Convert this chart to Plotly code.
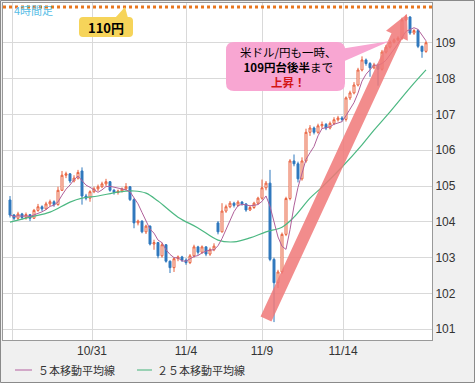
import math
import plotly.graph_objects as go

# ---------------- data ----------------
idx = list(range(105))
opens = [104.61,104.19,104.10,104.22,104.12,104.20,104.10,104.32,104.42,104.36,
         104.50,104.56,104.48,104.88,105.30,105.34,105.14,105.22,105.42,104.72,
         104.66,104.84,104.92,104.98,105.06,105.12,104.88,104.82,104.86,104.92,
         104.98,104.62,103.97,104.02,103.72,103.88,103.38,103.42,103.05,103.36,
         102.90,102.72,102.97,103.02,102.93,102.86,103.05,103.30,103.15,103.30,
         103.10,103.22,103.97,103.72,104.30,104.42,104.52,104.46,104.55,104.50,
         104.33,104.40,104.52,104.66,104.95,105.08,102.95,102.30,102.60,103.65,
         104.65,105.70,105.62,105.20,105.70,106.50,106.62,106.50,106.68,106.72,
         106.62,106.75,106.85,106.90,106.86,107.46,107.60,107.82,108.24,108.52,
         108.42,108.30,108.38,108.26,108.74,108.88,109.02,109.08,109.13,109.64,
         109.72,109.27,109.34,108.90,108.76]
highs = [104.72,104.22,104.28,104.25,104.26,104.22,104.36,104.50,104.46,104.56,
         104.62,104.60,104.98,105.42,105.40,105.36,105.30,105.45,105.52,104.78,
         104.88,104.98,105.04,105.12,105.20,105.14,104.92,104.90,104.96,105.08,
         105.00,104.66,104.06,104.04,103.92,103.90,103.50,103.44,103.42,103.38,
         102.92,103.00,103.06,103.05,102.98,103.10,103.36,103.33,103.34,103.32,
         103.28,103.40,104.02,104.52,104.48,104.58,104.56,104.60,104.58,104.52,
         104.45,104.56,104.70,105.18,105.14,105.45,103.00,102.66,103.70,104.70,
         105.75,105.88,105.68,105.80,106.60,106.70,106.66,106.74,106.80,106.76,
         106.80,106.92,106.96,106.95,107.50,107.66,107.90,108.30,108.62,108.56,
         108.46,108.44,108.42,108.80,108.94,109.06,109.12,109.18,109.70,109.78,
         109.74,109.38,109.38,108.92,109.05]
lows = [104.12,104.04,104.05,104.06,104.06,104.02,104.08,104.28,104.30,104.34,
        104.44,104.42,104.45,104.86,105.22,105.08,105.10,105.18,104.48,104.60,
        104.56,104.80,104.86,104.94,105.00,104.84,104.76,104.76,104.82,104.88,
        104.58,103.82,103.90,103.68,103.66,103.34,103.22,102.98,103.00,102.86,
        102.57,102.60,102.90,102.88,102.80,102.82,103.00,103.08,103.10,103.04,
        103.05,103.18,103.65,103.70,104.25,104.38,104.40,104.42,104.45,104.28,
        104.30,104.36,104.48,104.62,104.88,102.90,101.20,102.15,102.55,103.60,
        104.60,105.55,105.10,105.15,105.65,106.40,106.44,106.46,106.60,106.56,
        106.58,106.70,106.80,106.80,106.80,107.40,107.56,107.78,108.20,108.36,
        108.05,108.26,107.80,108.22,108.70,108.84,108.98,109.04,109.08,109.60,
        109.22,109.22,108.85,108.58,108.72]
closes = [104.19,104.10,104.22,104.12,104.20,104.10,104.32,104.42,104.36,104.50,
          104.56,104.48,104.88,105.30,105.34,105.14,105.22,105.38,104.72,104.66,
          104.84,104.92,104.98,105.06,105.12,104.88,104.82,104.86,104.92,104.98,
          104.62,103.97,104.02,103.72,103.88,103.38,103.42,103.05,103.36,102.90,
          102.72,102.97,103.02,102.93,102.86,103.05,103.30,103.15,103.30,103.10,
          103.22,103.32,103.72,104.30,104.42,104.52,104.46,104.55,104.50,104.33,
          104.40,104.52,104.66,104.95,105.08,102.95,102.30,102.60,103.65,104.65,
          105.70,105.62,105.20,105.70,106.50,106.62,106.50,106.68,106.72,106.62,
          106.75,106.85,106.90,106.86,107.46,107.60,107.82,108.24,108.52,108.42,
          108.30,108.38,108.26,108.74,108.88,109.02,109.08,109.13,109.64,109.72,
          109.27,109.34,108.90,108.76,109.00]

# 25-bar moving average at sample bars
ma25_idx = [0, 5, 10, 15, 18, 22, 27, 31, 34, 37, 42, 47, 52, 56, 60, 64, 68, 71,
            75, 78, 83, 88, 91, 95, 100, 104]
ma25_val = [103.99, 104.13, 104.27, 104.55, 104.66, 104.72, 104.83, 104.86, 104.80,
            104.58, 104.13, 103.83, 103.49, 103.44, 103.55, 103.72, 103.85, 104.13,
            104.66, 104.97, 105.53, 106.15, 106.56, 107.07, 107.74, 108.24]

tick_idx = [0.5, 20.5, 44, 63, 83.25]
tick_labels = ["", "10/31", "11/4", "11/9", "11/14"]
y_ticks = [101, 102, 103, 104, 105, 106, 107, 108, 109]
level_110 = 110

# 5-bar moving average of the closes
ma5 = []
for i in range(len(closes)):
    w = closes[max(0, i - 4):i + 1]
    ma5.append(sum(w) / len(w))

# ---------------- geometry helpers ----------------
W, H = 475, 383
PL, PR, PT, PB = 3, 432, 3, 340
X0, X1 = -1.75, 105.5
Y0, Y1 = 100.70, 110.11


def P(px, py):
    return (px - PL) / (PR - PL), (PB - py) / (PB - PT)


def rr_path(x0, y0, x1, y1, r):
    pts = [("M", [(x0 + r, y0)]), ("L", [(x1 - r, y0)]), ("Q", [(x1, y0), (x1, y0 + r)]),
           ("L", [(x1, y1 - r)]), ("Q", [(x1, y1), (x1 - r, y1)]), ("L", [(x0 + r, y1)]),
           ("Q", [(x0, y1), (x0, y1 - r)]), ("L", [(x0, y0 + r)]), ("Q", [(x0, y0), (x0 + r, y0)])]
    s = ""
    for cmd, ps in pts:
        s += cmd + " " + " ".join("%.5f,%.5f" % P(a, b) for a, b in ps) + " "
    return s + "Z"


def poly_path(points):
    s = "M " + " L ".join("%.5f,%.5f" % P(a, b) for a, b in points)
    return s + " Z"


fig = go.Figure()

fig.add_trace(go.Scatter(x=ma25_idx, y=ma25_val, mode="lines",
                         line=dict(color="#4cb882", width=1.2, shape="spline"),
                         hoverinfo="skip", showlegend=False))
fig.add_trace(go.Candlestick(
    x=idx, open=opens, high=highs, low=lows, close=closes,
    increasing=dict(line=dict(color="#e8603c", width=1), fillcolor="#ffffff"),
    decreasing=dict(line=dict(color="#2f78bd", width=1), fillcolor="#2f78bd"),
    whiskerwidth=0, showlegend=False))
fig.add_trace(go.Scatter(x=idx, y=ma5, mode="lines",
                         line=dict(color="#b0609a", width=1),
                         hoverinfo="skip", showlegend=False))
fig.add_trace(go.Scatter(x=[X0, X1], y=[level_110, level_110], mode="lines",
                         line=dict(color="#e8761e", width=3, dash="dot"),
                         hoverinfo="skip", showlegend=False))

shapes = []
# big rising arrow
sx, sy, tx, ty = 266, 319, 407, 14
dx, dy = tx - sx, ty - sy
L = math.hypot(dx, dy)
ux, uy = dx / L, dy / L
nx, ny = -uy, ux
hw, hh, hl = 6, 12, 24
bx, by = tx - ux * hl, ty - uy * hl
arrow = [(sx + nx * hw, sy + ny * hw), (bx + nx * hw, by + ny * hw), (bx + nx * hh, by + ny * hh),
         (tx, ty), (bx - nx * hh, by - ny * hh), (bx - nx * hw, by - ny * hw),
         (sx - nx * hw, sy - ny * hw)]
shapes.append(dict(type="path", xref="paper", yref="paper", path=poly_path(arrow),
                   fillcolor="#f07878", opacity=0.85, line=dict(width=0), layer="above"))
# yellow 110 callout
shapes.append(dict(type="path", xref="paper", yref="paper",
                   path=poly_path([(115, 18), (125, 7), (128, 18)]),
                   fillcolor="#f6d45a", line=dict(width=0), layer="above"))
shapes.append(dict(type="path", xref="paper", yref="paper", path=rr_path(79, 17, 133, 37, 4),
                   fillcolor="#f6d45a", line=dict(width=0), layer="above"))
# pink callout
shapes.append(dict(type="path", xref="paper", yref="paper",
                   path=poly_path([(340, 49), (390, 41), (340, 63)]),
                   fillcolor="#f8a6d2", line=dict(width=0), layer="above"))
shapes.append(dict(type="path", xref="paper", yref="paper", path=rr_path(226, 42, 345, 91, 8),
                   fillcolor="#f8a6d2", line=dict(width=0), layer="above"))
# legend lines
for x0, x1, c in [(15, 32, "#c890bb"), (137, 152, "#7cc7a0")]:
    a = P(x0, 370); b = P(x1, 370)
    shapes.append(dict(type="line", xref="paper", yref="paper", x0=a[0], y0=a[1], x1=b[0], y1=b[1],
                       line=dict(color=c, width=1.5)))
# outer frame
a = P(0.5, 0.5); b = P(474.5, 382.5)
shapes.append(dict(type="rect", xref="paper", yref="paper", x0=a[0], y0=a[1], x1=b[0], y1=b[1],
                   line=dict(color="#8a8a8a", width=1), fillcolor="rgba(0,0,0,0)", layer="below"))

JP = "Noto Sans CJK JP"
ann = []


def add_text(px, py, text, size, color="#000", xanchor="center"):
    x, y = P(px, py)
    ann.append(dict(x=x, y=y, xref="paper", yref="paper", text=text, showarrow=False,
                    xanchor=xanchor, yanchor="middle", align="center",
                    font=dict(family=JP, size=size, color=color)))


add_text(12, 10, "4時間足", 11, "#55bde6", "left")
add_text(106, 27, "<b>110円</b>", 13)
add_text(288, 67, "米ドル/円も一時、<br><b>109円台後半</b>まで<br><b><span style='color:#d41515'>上昇！</span></b>", 11.5)
add_text(36, 370, "５本移動平均線", 11, "#333", "left")
add_text(155, 370, "２５本移動平均線", 11, "#333", "left")

fig.update_layout(
    width=W, height=H,
    margin=dict(l=PL, r=W - PR, t=PT, b=H - PB, pad=0),
    paper_bgcolor="#f0f0f0", plot_bgcolor="#ffffff",
    shapes=shapes, annotations=ann, showlegend=False,
    font=dict(family="Liberation Sans", size=12, color="#333"),
    xaxis=dict(range=[X0, X1], tickvals=tick_idx, ticktext=tick_labels,
               showgrid=True, gridcolor="#d9d9d9", gridwidth=1, zeroline=False,
               showline=True, linecolor="#999", mirror=True, ticks="",
               rangeslider=dict(visible=False), fixedrange=True,
               tickfont=dict(family="Liberation Sans", size=12, color="#333")),
    yaxis=dict(range=[Y0, Y1], tickvals=y_ticks, side="right", fixedrange=True,
               showgrid=True, gridcolor="#d9d9d9", gridwidth=1, zeroline=False,
               showline=True, linecolor="#999", mirror=True, ticks="",
               tickfont=dict(family="Liberation Sans", size=12, color="#333")),
)

fig.write_html("out.html", config={"displayModeBar": False},
               post_script="document.body.style.margin='0';document.body.style.overflow='hidden';")
